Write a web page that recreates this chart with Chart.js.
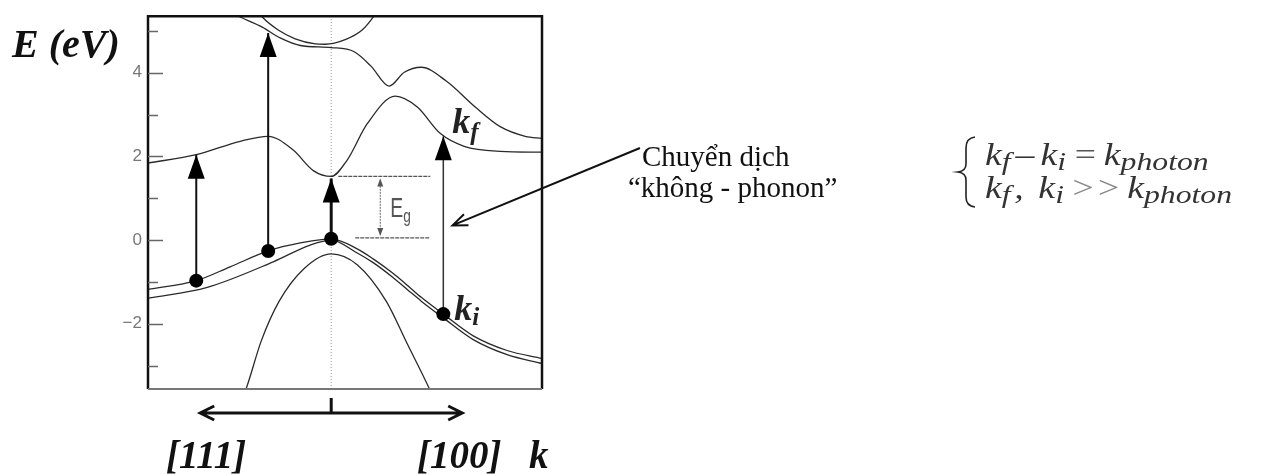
<!DOCTYPE html>
<html>
<head>
<meta charset="utf-8">
<script src="https://cdn.jsdelivr.net/npm/chart.js@4.4.0/dist/chart.umd.min.js"></script>
<style>
html, body { margin: 0; padding: 0; background: #fff; }
#wrap { width: 1261px; height: 474px; position: relative; }
</style>
</head>
<body>
<div id="wrap"><canvas id="bandChart"></canvas></div>
<script>
"use strict"

// k runs along [111] on the left (negative) and [100] on the right (positive)
const kMin = -0.93
const kMax = 1.07
const eMin = -3.56
const eMax = 5.35
const eTicks = [-3, -2, -1, 0, 1, 2, 3, 4, 5]

// lowest conduction band
const cond1K = [-0.93, -0.685, -0.462, -0.32, -0.193, -0.091, 0, 0.081, 0.183, 0.325, 0.437, 0.553, 0.675, 0.858, 1.07]
const cond1E = [1.84, 2.04, 2.36, 2.48, 2.15, 1.66, 1.52, 1.91, 2.78, 3.44, 3.18, 2.55, 2.24, 2.12, 2.10]

// second conduction band
const cond2K = [-0.513, -0.462, -0.35, -0.259, -0.157, 0, 0.117, 0.203, 0.294, 0.371, 0.457, 0.584, 0.731, 0.858, 0.985, 1.07]
const cond2E = [5.45, 5.33, 5.09, 4.83, 4.65, 4.6, 4.5, 4.15, 3.68, 4.01, 4.13, 3.8, 3.18, 2.71, 2.48, 2.43]

// upper conduction band (only its bottom is in range)
const cond3K = [-0.381, -0.35, -0.269, -0.183, -0.081, -0.03, 0.071, 0.157, 0.213, 0.239]
const cond3E = [5.52, 5.33, 5.02, 4.81, 4.69, 4.68, 4.79, 5.02, 5.33, 5.52]

// heavy / light hole bands
const val1K = [-0.93, -0.685, -0.513, -0.32, -0.157, 0, 0.132, 0.213, 0.315, 0.386, 0.457, 0.569, 0.721, 0.893, 1.07]
const val1E = [-1.18, -0.97, -0.64, -0.26, -0.07, 0.03, -0.21, -0.45, -0.8, -1.08, -1.37, -1.77, -2.29, -2.64, -2.83]
const val2K = [-0.93, -0.629, -0.294, -0.107, 0, 0.132, 0.213, 0.315, 0.386, 0.457, 0.569, 0.721, 0.893, 1.07]
const val2E = [-1.39, -1.13, -0.52, -0.12, 0.0, -0.31, -0.54, -0.9, -1.18, -1.46, -1.86, -2.38, -2.74, -2.95]

// split-off band
const soK = [-0.457, -0.431, -0.355, -0.264, -0.137, 0, 0.132, 0.279, 0.386, 0.497, 0.523]
const soE = [-3.82, -3.54, -2.41, -1.46, -0.68, -0.33, -0.59, -1.46, -2.48, -3.54, -3.82]

// optical transitions: start on the valence band, end on a conduction band
const transK = [-0.685, -0.32, 0, 0.569]
const transFrom = [-0.97, -0.26, 0.03, -1.77]
const transTo = [2.04, 4.95, 1.47, 2.48]
const transWidth = [2, 2, 3, 1.5]

// band gap markers
const gapTop = 1.52
const gapBottom = 0.05
const gapLineK = [[0.036, 0.503], [0.122, 0.503]]
const gapArrowK = 0.249

function toPoints(ks, es) {
	return ks.map(function (k, i) { return { x: k, y: es[i] } })
}

// lower "order" is painted later (on top)
function bandSet(ks, es) {
	return {
		data: toPoints(ks, es),
		showLine: true,
		borderColor: '#2a2a2a',
		borderWidth: 1.3,
		pointRadius: 0,
		cubicInterpolationMode: 'monotone',
		order: 5
	}
}

const datasets = [
	{
		data: [{ x: 0, y: eMin }, { x: 0, y: eMax }],
		showLine: true, borderColor: '#9a9a9a', borderWidth: 1, borderDash: [1, 2], pointRadius: 0, order: 9
	},
	bandSet(cond1K, cond1E),
	bandSet(cond2K, cond2E),
	bandSet(cond3K, cond3E),
	bandSet(val1K, val1E),
	bandSet(val2K, val2E),
	bandSet(soK, soE),
	{
		data: [{ x: gapLineK[0][0], y: gapTop }, { x: gapLineK[0][1], y: gapTop }],
		showLine: true, borderColor: '#555', borderWidth: 1.2, borderDash: [4, 1], pointRadius: 0, order: 6
	},
	{
		data: [{ x: gapLineK[1][0], y: gapBottom }, { x: gapLineK[1][1], y: gapBottom }],
		showLine: true, borderColor: '#555', borderWidth: 1.2, borderDash: [4, 1], pointRadius: 0, order: 6
	},
	{
		data: [{ x: gapArrowK, y: gapTop - 0.08 }, { x: gapArrowK, y: gapBottom + 0.08 }],
		showLine: true, borderColor: '#666', borderWidth: 1, borderDash: [2, 1], pointRadius: 0, order: 6
	}
]

transK.forEach(function (k, i) {
	datasets.push({
		data: [{ x: k, y: transFrom[i] }, { x: k, y: transTo[i] }],
		showLine: true, borderColor: i === 3 ? '#333' : '#111', borderWidth: transWidth[i], pointRadius: 0, order: 2
	})
})

// initial states
datasets.push({
	data: toPoints(transK, transFrom),
	pointRadius: 7, pointBackgroundColor: '#000', pointBorderWidth: 0, showLine: false, order: 0
})

function arrowHead(ctx, x, y, len, half) {
	ctx.beginPath()
	ctx.moveTo(x, y)
	ctx.lineTo(x - half, y + len)
	ctx.lineTo(x + half, y + len)
	ctx.closePath()
	ctx.fill()
}

// parts: [text, 'm' | 's', colour] or a number for an extra gap in px
function richText(ctx, x, y, parts, mainFont, subFont, subDrop) {
	parts.forEach(function (p) {
		if (typeof p === 'number') { x += p; return }
		ctx.font = p[1] === 's' ? subFont : mainFont
		ctx.fillStyle = p[2] || '#222'
		ctx.fillText(p[0], x, y + (p[1] === 's' ? subDrop : 0))
		x += ctx.measureText(p[0]).width
	})
}

const decor = {
	id: 'decor',
	afterDatasetsDraw: function (chart) {
		const ctx = chart.ctx
		const a = chart.chartArea
		const xs = chart.scales.x
		const ys = chart.scales.y
		ctx.save()

		// frame
		ctx.strokeStyle = '#111'
		ctx.lineWidth = 2.5
		ctx.beginPath()
		ctx.moveTo(a.left, a.bottom)
		ctx.lineTo(a.left, a.top)
		ctx.lineTo(a.right, a.top)
		ctx.lineTo(a.right, a.bottom)
		ctx.stroke()
		ctx.strokeStyle = '#777'
		ctx.lineWidth = 2
		ctx.beginPath()
		ctx.moveTo(a.left, a.bottom)
		ctx.lineTo(a.right, a.bottom)
		ctx.stroke()

		// inward ticks on the energy axis
		ctx.strokeStyle = '#666'
		ctx.lineWidth = 1.5
		eTicks.forEach(function (v) {
			const y = Math.round(ys.getPixelForValue(v)) + 0.5
			ctx.beginPath()
			ctx.moveTo(a.left, y)
			ctx.lineTo(a.left + (v % 2 === 0 ? 15 : 10), y)
			ctx.stroke()
		})

		// arrow heads of the transitions
		ctx.fillStyle = '#000'
		transK.forEach(function (k, i) {
			arrowHead(ctx, xs.getPixelForValue(k), ys.getPixelForValue(transTo[i]), 24, 8.5)
		})

		// band gap arrow and label
		const gx = xs.getPixelForValue(gapArrowK)
		ctx.fillStyle = '#555'
		arrowHead(ctx, gx, ys.getPixelForValue(gapTop) + 2, 8, 3)
		arrowHead(ctx, gx, ys.getPixelForValue(gapBottom) - 2, -8, 3)
		ctx.textBaseline = 'alphabetic'
		const ex = gx + 10
		const ey = ys.getPixelForValue(0.55)
		ctx.save()
		ctx.translate(ex, ey)
		ctx.scale(0.72, 1)
		ctx.fillStyle = '#555'
		ctx.font = '27px "Liberation Sans"'
		ctx.fillText('E', 0, 0)
		ctx.font = '19px "Liberation Sans"'
		ctx.fillText('g', 18, 5)
		ctx.restore()

		// state labels
		ctx.fillStyle = '#111'
		richText(ctx, xs.getPixelForValue(0.614), ys.getPixelForValue(2.55),
			[['k', 'm'], ['f', 's']], 'bold italic 36px "Liberation Serif"', 'bold italic 25px "Liberation Serif"', 7)
		richText(ctx, xs.getPixelForValue(0.624), ys.getPixelForValue(-1.91),
			[['k', 'm'], ['i', 's']], 'bold italic 36px "Liberation Serif"', 'bold italic 25px "Liberation Serif"', 5)

		// energy axis title
		ctx.fillStyle = '#111'
		ctx.font = 'bold italic 40px "Liberation Serif"'
		ctx.fillText('E (eV)', 12, 57)

		// direction arrow under the plot
		const cx = xs.getPixelForValue(0)
		const lx = xs.getPixelForValue(-0.665)
		const rx = xs.getPixelForValue(0.665)
		const ay = a.bottom + 24
		ctx.strokeStyle = '#111'
		ctx.lineWidth = 3
		ctx.beginPath()
		ctx.moveTo(lx, ay)
		ctx.lineTo(rx, ay)
		ctx.moveTo(cx, a.bottom + 9)
		ctx.lineTo(cx, ay)
		ctx.moveTo(lx + 14, ay - 7)
		ctx.lineTo(lx, ay)
		ctx.lineTo(lx + 14, ay + 7)
		ctx.moveTo(rx - 14, ay - 7)
		ctx.lineTo(rx, ay)
		ctx.lineTo(rx - 14, ay + 7)
		ctx.stroke()

		ctx.font = 'bold italic 39px "Liberation Serif"'
		ctx.textAlign = 'center'
		ctx.fillText('[111]', xs.getPixelForValue(-0.635), 468)
		ctx.fillText('[100]', xs.getPixelForValue(0.65), 468)
		ctx.textAlign = 'left'
		ctx.fillText('k', 529, 468)

		// pointer to the direct transition
		ctx.strokeStyle = '#111'
		ctx.lineWidth = 2
		const px = xs.getPixelForValue(0.575) + 8
		const py = ys.getPixelForValue(0.35)
		const qx = 640
		const qy = 148
		ctx.beginPath()
		ctx.moveTo(qx, qy)
		ctx.lineTo(px, py)
		const ang = Math.atan2(qy - py, qx - px)
		ctx.moveTo(px + 16 * Math.cos(ang + 0.38), py + 16 * Math.sin(ang + 0.38))
		ctx.lineTo(px, py)
		ctx.lineTo(px + 16 * Math.cos(ang - 0.38), py + 16 * Math.sin(ang - 0.38))
		ctx.stroke()

		ctx.fillStyle = '#111'
		ctx.font = '29px "Liberation Serif"'
		ctx.fillText('Chuyển dịch', 642, 166)
		ctx.fillText('\u201ckhông - phonon\u201d', 628, 197)

		// brace
		ctx.strokeStyle = '#222'
		ctx.lineWidth = 1.6
		ctx.beginPath()
		ctx.moveTo(975, 137)
		ctx.quadraticCurveTo(966, 138, 966, 148)
		ctx.lineTo(966, 164)
		ctx.quadraticCurveTo(966, 171, 958, 172)
		ctx.quadraticCurveTo(966, 173, 966, 180)
		ctx.lineTo(966, 197)
		ctx.quadraticCurveTo(966, 206, 975, 207)
		ctx.stroke()

		// momentum conditions
		const mf = 'italic 31px "Liberation Serif"'
		const sf = 'italic 26px "Liberation Serif"'
		const ink = '#333'
		ctx.save()
		ctx.translate(985, 165)
		ctx.scale(1.22, 1)
		richText(ctx, 0, 0, [['k', 'm', ink], ['f', 's', ink], 4, ['\u2013', 'm', ink], 5, ['k', 'm', ink], ['i', 's', ink],
			5, ['=', 'm', '#555'], 5, ['k', 'm', ink], ['photon', 's', ink]], mf, sf, 5)
		ctx.restore()
		ctx.save()
		ctx.translate(985, 198)
		ctx.scale(1.22, 1)
		richText(ctx, 0, 0, [['k', 'm', ink], ['f', 's', ink], 3, [',', 'm', ink], 12, ['k', 'm', ink], ['i', 's', ink],
			5, ['>>', 'm', '#888'], 5, ['k', 'm', ink], ['photon', 's', ink]], mf, sf, 5)
		ctx.restore()

		ctx.restore()
	}
}

const chart = new Chart(document.getElementById('bandChart'), {
	type: 'scatter',
	data: { datasets: datasets },
	options: {
		responsive: true,
		maintainAspectRatio: false,
		animation: false,
		events: [],
		layout: { padding: { top: 11, right: 719, bottom: 85, left: 0 } },
		plugins: { legend: { display: false }, tooltip: { enabled: false } },
		scales: {
			x: { type: 'linear', min: kMin, max: kMax, display: false },
			y: {
				type: 'linear', min: eMin, max: eMax,
				afterBuildTicks: function (scale) {
					scale.ticks = eTicks.map(function (v) { return { value: v } })
				},
				afterFit: function (scale) { scale.width = 148 },
				grid: { display: false, drawTicks: false },
				border: { display: false },
				ticks: {
					padding: 6,
					color: '#777',
					font: { family: '"Liberation Sans"', size: 17 },
					callback: function (v) {
						if (v % 2 !== 0) return ''
						return v < 0 ? '\u2212' + Math.abs(v) : String(v)
					}
				}
			}
		}
	},
	plugins: [decor]
})
</script>
</body>
</html>
